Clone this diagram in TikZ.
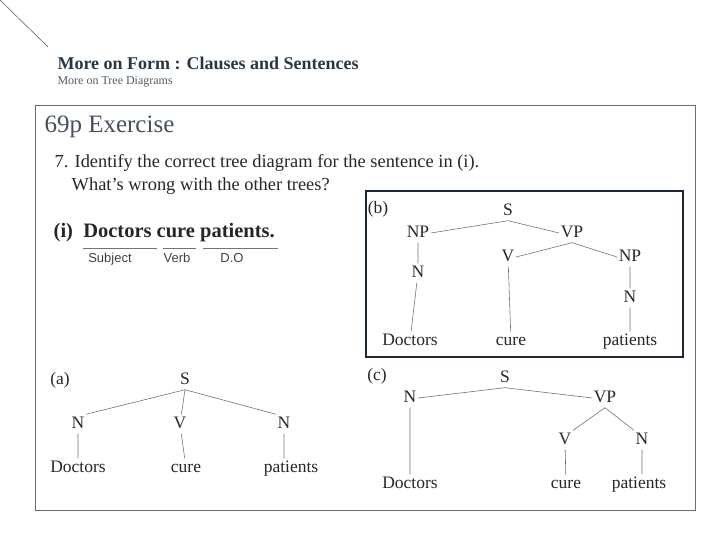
\documentclass[tikz,border=0pt]{standalone}
\usepackage{fontspec}
\setmainfont{Liberation Serif}
\newfontfamily\labfont{Liberation Sans}
\begin{document}
\begin{tikzpicture}[x=1pt,y=-1pt,
  t/.style={font=\fontsize{17.5}{19}\selectfont, inner sep=1.5pt, text height=12pt, text depth=4pt, text=black!85},
  e/.style={draw=black!55, line width=0.6pt},
  lab/.style={font=\labfont\fontsize{13}{14}\selectfont, text height=9pt, text depth=3pt, text=black!75}]
\useasboundingbox (0,0) rectangle (720,540);
\coordinate (c0) at (0,0); \coordinate (c1) at (48,47);
\draw[black!70,line width=0.5pt] (c0) -- (c1);
\node[anchor=west, text={rgb,255:red,40;green,55;blue,70}, font=\bfseries\fontsize{18}{20}\selectfont] (title) at (54,63) {More on Form : Clauses and Sentences};
\node[anchor=west, text={rgb,255:red,80;green,90;blue,100}, font=\fontsize{12}{13}\selectfont] (sub) at (54,82) {More on Tree Diagrams};
\draw[draw={rgb,255:red,100;green,110;blue,120}, line width=0.8pt] (35,105) rectangle (695,510);
\node[anchor=west, text={rgb,255:red,70;green,80;blue,90}, font=\fontsize{25}{27}\selectfont] (ex) at (41,127) {69p Exercise};
\node[anchor=west, t, font=\fontsize{18.4}{20}\selectfont] (q1) at (53,164) {7. Identify the correct tree diagram for the sentence in (i).};
\node[anchor=west, t, font=\fontsize{18.4}{20}\selectfont] (q2) at (70,187) {What’s wrong with the other trees?};
% (i)
\node[anchor=west, t, font=\bfseries\fontsize{20.5}{22}\selectfont] (i) at (52,233) {(i)\ \ Doctors cure patients.};
\draw[black!55] (83,248) -- (157,248) (163,248) -- (196,248) (203,248) -- (278,248);
\node[lab] (sj) at (110,259) {Subject};
\node[lab] (vb) at (177,259) {Verb};
\node[lab] (do) at (232,259) {D.O};
% (b)
\draw[draw={rgb,255:red,28;green,40;blue,52}, line width=2.5pt] (366,191) rectangle (683,357);
\node[t] (bl) at (378,210) {(b)};
\node[t] (bS) at (508,211) {S};
\node[t] (bNP) at (418,233) {NP};
\node[t] (bVP) at (572,233) {VP};
\node[t] (bV) at (508,257) {V};
\node[t] (bNP2) at (630,257) {NP};
\node[t] (bN) at (418,273) {N};
\node[t] (bN2) at (630,298) {N};
\node[t] (bD) at (410,341) {Doctors};
\node[t] (bc) at (511,341) {cure};
\node[t] (bp) at (630,341) {patients};
\draw[e] (bS.south) -- (bNP.east) (bS.south) -- (bVP.west) (bVP.south) -- (bV.east) (bVP.south) -- (bNP2.west)
  (bNP) -- (bN) (bN) -- (bD) (bV) -- (bc) (bNP2) -- (bN2) (bN2.south -| bp.north) -- (bp);
% (a)
\node[t] (al) at (60,380) {(a)};
\node[t] (aS) at (185,380) {S};
\node[t] (aN) at (78,424) {N};
\node[t] (aV) at (180,424) {V};
\node[t] (aN2) at (284,424) {N};
\node[t] (aD) at (78,468) {Doctors};
\node[t] (ac) at (186,468) {cure};
\node[t] (ap) at (291,468) {patients};
\draw[e] (aS.south) -- (aN.north east) (aS.south) -- (aV) (aS.south) -- (aN2.north west)
  (aN) -- (aD) (aV) -- (ac) (aN2) -- (ap.north -| aN2);
% (c)
\node[t] (cl) at (377,376) {(c)};
\node[t] (cS) at (505,378) {S};
\node[t] (cN) at (410,398) {N};
\node[t] (cVP) at (605,398) {VP};
\node[t] (cV) at (565,440) {V};
\node[t] (cN2) at (642,440) {N};
\node[t] (cD) at (410,484) {Doctors};
\node[t] (cc) at (566,484) {cure};
\node[t] (cp) at (639,484) {patients};
\draw[e] (cS.south) -- (cN.east) (cS.south) -- (cVP.west) (cVP.south) -- (cV.north east) (cVP.south) -- (cN2.north west)
  (cN) -- (cD) (cV) -- (cc) (cN2) -- (cp.north -| cN2);
\end{tikzpicture}
\end{document}
